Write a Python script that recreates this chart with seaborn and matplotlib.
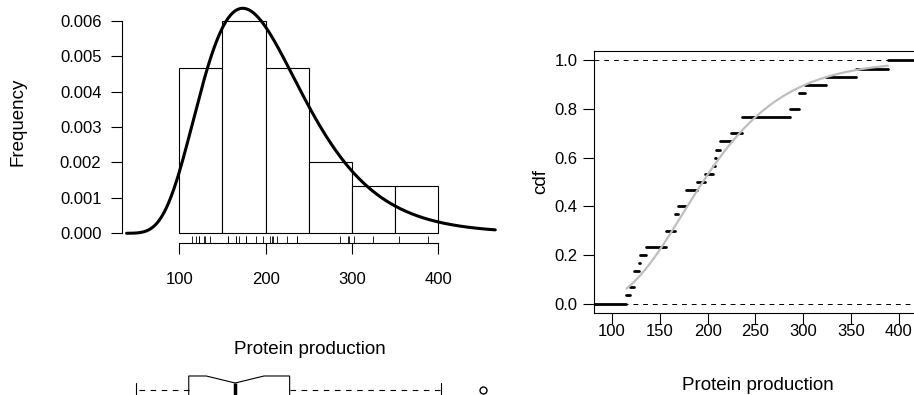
import math
import numpy as np
import matplotlib
matplotlib.use('Agg')
import matplotlib.pyplot as plt
import seaborn as sns

# protein production values (read from ECDF jumps and rug)
protein = [115.1, 119.0, 123.0, 123.0, 128.5, 129.5, 135.3, 156.5, 156.5, 165.6,
           165.6, 169.2, 177.6, 177.6, 188.6, 197.5, 205.6, 207.4, 208.5, 212.7,
           224.7, 236.0, 236.0, 286.4, 295.6, 296.1, 302.1, 324.1, 355.0, 388.4]
hist_breaks = [100, 150, 200, 250, 300, 350, 400]
hist_yticks = [0.000, 0.001, 0.002, 0.003, 0.004, 0.005, 0.006]
cdf_xticks = [100, 150, 200, 250, 300, 350, 400]
cdf_yticks = [0.0, 0.2, 0.4, 0.6, 0.8, 1.0]

sns.set_style('ticks')
plt.rcParams['font.family'] = ['Liberation Sans', 'DejaVu Sans']
plt.rcParams['text.color'] = 'black'
plt.rcParams['axes.labelcolor'] = 'black'
plt.rcParams['axes.edgecolor'] = 'black'

x = np.array(protein)
n = len(x)
# lognormal fit (MLE)
meanlog = np.log(x).mean()
sdlog = np.log(x).std()

fig = plt.figure(figsize=(9.14, 3.95), dpi=100)

# histogram + fitted density
ax1 = fig.add_axes([122.3 / 914, 1 - 243 / 395, (497 - 122.3) / 914, 242 / 395])
sns.histplot(x=protein, bins=hist_breaks, stat='density', color='white',
             edgecolor='black', linewidth=0.8, alpha=1, ax=ax1)
sns.rugplot(x=protein, height=0.03, color='black', linewidth=0.6, ax=ax1)
grid = np.linspace(39, 466, 400)
pdf = np.exp(-(np.log(grid) - meanlog) ** 2 / (2 * sdlog ** 2)) / (grid * sdlog * np.sqrt(2 * np.pi))
sns.lineplot(x=grid, y=pdf, color='black', linewidth=2.2, ax=ax1)
ax1.set_xlim(34, 468)
ax1.set_ylim(-0.000274, 0.006556)
ax1.set_xticks(hist_breaks[::2])
ax1.set_yticks(hist_yticks)
ax1.set_yticklabels(['%.3f' % v for v in hist_yticks])
for s in ['top', 'right']:
    ax1.spines[s].set_visible(False)
ax1.spines['bottom'].set_bounds(100, 400)
ax1.spines['left'].set_bounds(0, 0.006)
for s in ['bottom', 'left']:
    ax1.spines[s].set_linewidth(0.8)
ax1.tick_params(axis='both', length=8, width=0.8, labelsize=12, colors='black')
ax1.tick_params(axis='y', pad=7)
ax1.tick_params(axis='x', pad=13)
ax1.set_ylabel('Frequency', fontsize=13.5, labelpad=24)
ax1.set_xlabel('Protein production', fontsize=13.5, labelpad=39)

# notched boxplot under the histogram
ax3 = fig.add_axes([122.3 / 914, 1 - 420 / 395, (497 - 122.3) / 914, 60 / 395])
sns.boxplot(x=protein, ax=ax3, width=0.467, notch=True, color='white',
            linecolor='black', linewidth=0.8,
            whiskerprops=dict(linestyle=(0, (5, 5))),
            medianprops=dict(linewidth=2.5),
            flierprops=dict(marker='o', markersize=5, markerfacecolor='none',
                            markeredgecolor='black'))
r = x.max() - x.min()
ax3.set_xlim(x.min() - 0.04 * r, x.max() + 0.04 * r)
ax3.set_ylim(0.5, -0.5)
ax3.set_axis_off()

# empirical cdf + fitted cdf
ax2 = fig.add_axes([594.3 / 914, 1 - 313.3 / 395, 327 / 914, 262.6 / 395])
xlo, xhi = 81.5, 423.5
knots, counts = np.unique(x, return_counts=True)
levels = np.cumsum(counts) / n
starts = np.concatenate([[xlo], knots])
ends = np.concatenate([knots, [xhi]])
lev = np.concatenate([[0], levels])
ax2.axhline(0, color='black', linewidth=0.7, linestyle=(0, (5, 5)))
ax2.axhline(1, color='black', linewidth=0.7, linestyle=(0, (5, 5)))
segs = ax2.hlines(lev, starts, ends, color='black', linewidth=2)
segs.set_capstyle('round')
cgrid = np.linspace(x.min(), x.max(), 300)
cdf = [0.5 * (1 + math.erf((math.log(v) - meanlog) / (sdlog * math.sqrt(2)))) for v in cgrid]
sns.lineplot(x=cgrid, y=cdf, color='#bebebe', linewidth=1.6, ax=ax2)
ax2.set_xlim(xlo, xhi)
ax2.set_ylim(-0.04, 1.04)
ax2.set_xticks(cdf_xticks)
ax2.set_yticks(cdf_yticks)
ax2.set_yticklabels(['%.1f' % v for v in cdf_yticks])
for s in ax2.spines.values():
    s.set_linewidth(0.8)
ax2.tick_params(axis='both', length=8, width=0.8, labelsize=12, colors='black')
ax2.tick_params(axis='y', pad=4)
ax2.tick_params(axis='x', pad=0)
ax2.set_ylabel('cdf', fontsize=13.5, labelpad=4)
ax2.set_xlabel('Protein production', fontsize=13.5, labelpad=27)

fig.savefig('out.png', dpi=100)
